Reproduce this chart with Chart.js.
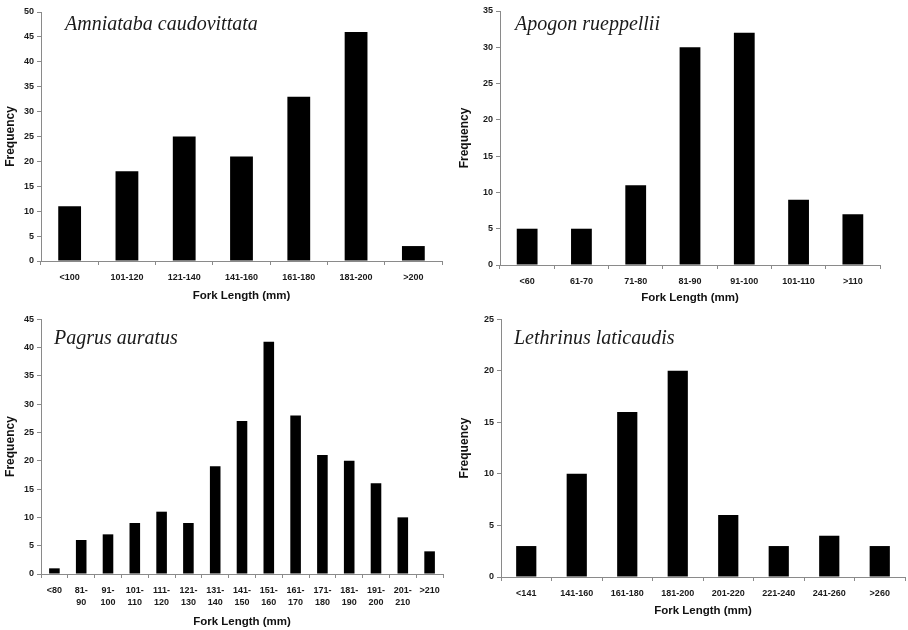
<!DOCTYPE html>
<html>
<head>
<meta charset="utf-8">
<script src="https://cdn.jsdelivr.net/npm/chart.js@4/dist/chart.umd.min.js"></script>
<style>
  html, body { margin: 0; padding: 0; background: #fff; }
  .panel { position: absolute; }
  canvas { display: block; }
</style>
</head>
<body>
<div class="panel" style="left:0;top:0;width:454px;height:310px"><canvas id="c1" width="454" height="310"></canvas></div>
<div class="panel" style="left:454px;top:0;width:454px;height:310px"><canvas id="c2" width="454" height="310"></canvas></div>
<div class="panel" style="left:0;top:310px;width:454px;height:320px"><canvas id="c3" width="454" height="320"></canvas></div>
<div class="panel" style="left:454px;top:310px;width:454px;height:320px"><canvas id="c4" width="454" height="320"></canvas></div>
<script>
// ---- Data ----
const amniatabaLabels = ['<100','101-120','121-140','141-160','161-180','181-200','>200'];
const amniatabaValues = [11, 18, 25, 21, 33, 46, 3];

const apogonLabels = ['<60','61-70','71-80','81-90','91-100','101-110','>110'];
const apogonValues = [5, 5, 11, 30, 32, 9, 7];

const pagrusLabels = ['<80',['81-','90'],['91-','100'],['101-','110'],['111-','120'],['121-','130'],['131-','140'],['141-','150'],['151-','160'],['161-','170'],['171-','180'],['181-','190'],['191-','200'],['201-','210'],'>210'];
const pagrusValues = [1, 6, 7, 9, 11, 9, 19, 27, 41, 28, 21, 20, 16, 10, 4];

const lethrinusLabels = ['<141','141-160','161-180','181-200','201-220','221-240','241-260','>260'];
const lethrinusValues = [3, 10, 16, 20, 6, 3, 4, 3];

const xAxisTitle = 'Fork Length (mm)';
const yAxisTitle = 'Frequency';

// ---- Plugin for species name inside plot ----
const speciesPlugin = {
  id: 'species',
  afterDraw(chart, args, opts) {
    const ctx = chart.ctx;
    ctx.save();
    ctx.font = 'italic 20px "Liberation Serif", "Times New Roman", serif';
    ctx.fillStyle = '#1a1a1a';
    ctx.textAlign = 'left';
    ctx.textBaseline = 'alphabetic';
    ctx.fillText(opts.text, opts.x, opts.y);
    ctx.restore();
  }
};

const AXIS = '#8a8a8a';
const TICKFONT = { family: '"Liberation Sans", Arial, sans-serif', size: 9, weight: 'bold', lineHeight: 1.35 };
const TITLEFONT = { family: '"Liberation Sans", Arial, sans-serif', size: 11.5, weight: 'bold' };

function makeChart(id, labels, values, o) {
  return new Chart(document.getElementById(id), {
    type: 'bar',
    data: {
      labels: labels,
      datasets: [{
        data: values,
        backgroundColor: '#000',
        borderWidth: 0,
        barPercentage: 1,
        categoryPercentage: o.frac
      }]
    },
    options: {
      responsive: false,
      animation: false,
      layout: { padding: { left: 0, top: o.top, right: o.right, bottom: 0 } },
      plugins: {
        legend: { display: false },
        tooltip: { enabled: false },
        species: { text: o.species, x: o.sx, y: o.sy }
      },
      scales: {
        x: {
          grid: { display: true, drawOnChartArea: false, drawTicks: true, tickLength: 4, color: AXIS, offset: true },
          border: { display: true, color: AXIS, width: 1 },
          ticks: { color: '#1a1a1a', font: TICKFONT, padding: o.xpad, maxRotation: 0, autoSkip: false },
          title: { display: true, text: xAxisTitle, color: '#111', font: TITLEFONT, padding: { top: 0, bottom: o.xtpad } },
          afterFit(scale) { scale.height = o.xh; }
        },
        y: {
          min: 0, max: o.max,
          grid: { display: true, drawOnChartArea: false, drawTicks: true, tickLength: 4, color: AXIS },
          border: { display: true, color: AXIS, width: 1 },
          ticks: { stepSize: 5, color: '#1a1a1a', font: TICKFONT, padding: 3 },
          title: { display: true, text: yAxisTitle, color: '#111', font: { family: TITLEFONT.family, size: 12, weight: 'bold' }, padding: { top: 3, bottom: 0 } },
          afterFit(scale) { scale.width = o.yw; }
        }
      }
    },
    plugins: [speciesPlugin]
  });
}

makeChart('c1', amniatabaLabels, amniatabaValues, {
  frac: 0.398, max: 50, top: 12, right: 12, yw: 41, xh: 49, xpad: 6, xtpad: 7,
  species: 'Amniataba caudovittata', sx: 65, sy: 30
});
makeChart('c2', apogonLabels, apogonValues, {
  frac: 0.383, max: 35, top: 11, right: 28, yw: 46, xh: 45, xpad: 6, xtpad: 5,
  species: 'Apogon rueppellii', sx: 61, sy: 30
});
makeChart('c3', pagrusLabels, pagrusValues, {
  frac: 0.395, max: 45, top: 5, right: 11, yw: 41, xh: 56, xpad: 6, xtpad: 1,
  species: 'Pagrus auratus', sx: 54, sy: 34
});
makeChart('c4', lethrinusLabels, lethrinusValues, {
  frac: 0.4, max: 25, top: 5, right: 3, yw: 47, xh: 53, xpad: 6, xtpad: 12,
  species: 'Lethrinus laticaudis', sx: 60, sy: 34
});
</script>
</body>
</html>
